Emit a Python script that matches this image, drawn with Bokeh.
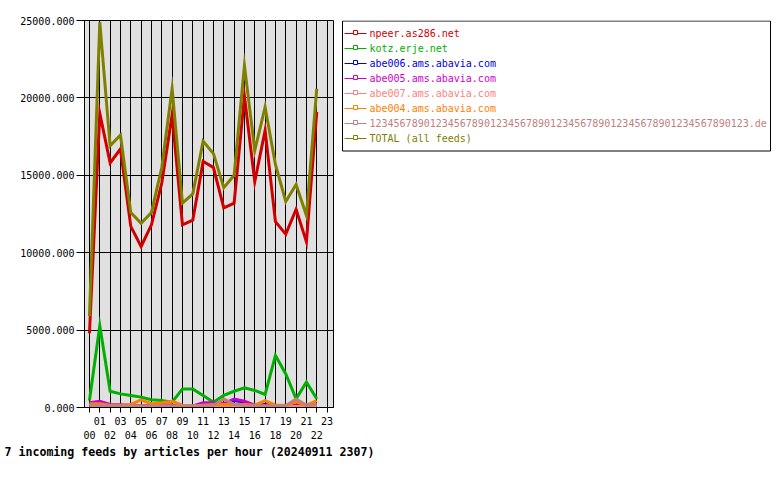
from bokeh.plotting import figure
from bokeh.layouts import row, column
from bokeh.models import (Range1d, FixedTicker, PrintfTickFormatter, LinearAxis,
                          Label, Grid, ColumnDataSource)
from bokeh.core.properties import value
from bokeh.embed import file_html
from bokeh.resources import INLINE

# ---------------- data ----------------
hours = [0, 1, 2, 3, 4, 5, 6, 7, 8, 9, 10, 11, 12, 13, 14, 15, 16, 17, 18, 19, 20, 21, 22]
hour_labels = ["00", "01", "02", "03", "04", "05", "06", "07", "08", "09", "10", "11",
               "12", "13", "14", "15", "16", "17", "18", "19", "20", "21", "22", "23"]
y_ticks = [0, 5000, 10000, 15000, 20000, 25000]

feed_names = ["npeer.as286.net", "kotz.erje.net", "abe006.ams.abavia.com",
              "abe005.ams.abavia.com", "abe007.ams.abavia.com", "abe004.ams.abavia.com",
              "123456789012345678901234567890123456789012345678901234567890123.de",
              "TOTAL (all feeds)"]
feed_colors = ["#d00000", "#00b000", "#0000dd", "#cc00cc", "#ff8080", "#ff8000",
               "#c08080", "#808000"]

npeer = [4800, 19000, 15800, 16700, 11700, 10400, 11800, 14500, 18900, 11800, 12100, 15900,
         15500, 12900, 13200, 20100, 14600, 17900, 12000, 11200, 12800, 10700, 19100]
kotz = [450, 5300, 1050, 880, 780, 670, 500, 450, 340, 1200, 1200, 780,
        340, 780, 1050, 1270, 1100, 840, 3360, 2170, 560, 1640, 560]
abe006 = [200, 250, 150, 120, 100, 80, 100, 150, 120, 60, 80, 150,
          250, 200, 450, 350, 100, 200, 100, 80, 150, 80, 150]
abe005 = [300, 400, 200, 180, 150, 120, 150, 200, 150, 80, 100, 300,
          300, 250, 550, 400, 150, 100, 100, 80, 100, 80, 200]
abe007 = [100, 120, 80, 60, 60, 50, 60, 80, 60, 40, 50, 80,
          100, 100, 150, 120, 60, 80, 60, 50, 80, 50, 100]
abe004 = [250, 250, 150, 150, 200, 500, 250, 300, 400, 150, 100, 150,
          200, 200, 200, 200, 150, 450, 150, 150, 350, 150, 450]
longname = [150, 150, 120, 120, 120, 120, 120, 120, 120, 120, 120, 120,
            150, 550, 200, 150, 120, 120, 120, 120, 550, 150, 200]
total = [5900, 24900, 16900, 17600, 12600, 11900, 12600, 15500, 20600, 13200, 13800, 17200,
         16400, 14200, 15000, 22100, 16600, 19400, 15700, 13300, 14400, 12400, 20600]

series = [npeer, kotz, abe006, abe005, abe007, abe004, longname, total]
title_text = "7 incoming feeds by articles per hour (20240911 2307)"

MONO = "DejaVu Sans Mono"

# ---------------- main chart ----------------
MAIN_W, MAIN_H = 338, 445
TOP, BOTTOM = 20, 38
p = figure(width=MAIN_W, height=MAIN_H, output_backend="svg", toolbar_location=None,
           x_range=Range1d(-0.48, 23.62), y_range=Range1d(0, 25000),
           x_axis_location=None, y_axis_location="left",
           min_border_left=84, min_border_right=5, min_border_top=TOP, min_border_bottom=BOTTOM,
           background_fill_color="#e0e0e0", border_fill_color="white",
           outline_line_color="black", outline_line_width=1)
p.grid.visible = False

all_ticks = list(range(len(hour_labels)))
p.add_layout(Grid(dimension=0, ticker=FixedTicker(ticks=all_ticks),
                  grid_line_color="black", grid_line_width=1))
p.add_layout(Grid(dimension=1, ticker=FixedTicker(ticks=y_ticks),
                  grid_line_color="black", grid_line_width=1))

ya = p.yaxis[0]
ya.ticker = FixedTicker(ticks=y_ticks)
ya.formatter = PrintfTickFormatter(format="%.3f")
ya.major_tick_out = 8
ya.major_tick_in = 0
ya.minor_tick_out = 0
ya.minor_tick_in = 0
ya.axis_line_color = "black"
ya.major_tick_line_color = "black"
ya.major_label_standoff = 2
ya.major_label_text_font = MONO
ya.major_label_text_font_size = "10px"
ya.major_label_text_color = "black"

axA = LinearAxis(ticker=FixedTicker(ticks=all_ticks),
                 major_label_overrides={t: (hour_labels[t] if t % 2 == 1 else "") for t in all_ticks},
                 major_tick_out=5, major_tick_in=0, minor_tick_out=0, minor_tick_in=0,
                 axis_line_color="black", major_tick_line_color="black",
                 major_label_standoff=4, major_label_text_font=MONO,
                 major_label_text_font_size="10px", major_label_text_color="black")
even_ticks = [t for t in all_ticks if t % 2 == 0]
axB = LinearAxis(ticker=FixedTicker(ticks=even_ticks),
                 major_label_overrides={t: hour_labels[t] for t in even_ticks},
                 major_tick_out=0, major_tick_in=0, minor_tick_out=0, minor_tick_in=0,
                 axis_line_color=None, major_tick_line_color=None,
                 major_label_standoff=3, major_label_text_font=MONO,
                 major_label_text_font_size="10px", major_label_text_color="black")
p.add_layout(axA, "below")
p.add_layout(axB, "below")

for vals, col in zip(series, feed_colors):
    p.line(hours, vals, line_color=col, line_width=3, line_join="miter")

# ---------------- legend (separate figure in pixel coordinates) ----------------
LEG_W = 780 - MAIN_W
FRAME_H = MAIN_H - TOP - BOTTOM
ROW_H = 15
PAD = 5
BOX_W = 428
BOX_H = len(feed_names) * ROW_H + 2 * PAD
leg = figure(width=LEG_W, height=MAIN_H, output_backend="svg", toolbar_location=None,
             x_range=Range1d(-4, LEG_W - 4), y_range=Range1d(start=FRAME_H - 0.5, end=-0.5),
             x_axis_location=None, y_axis_location=None,
             min_border_left=0, min_border_right=0,
             min_border_top=TOP, min_border_bottom=BOTTOM,
             background_fill_color="white", border_fill_color="white",
             outline_line_color=None)
leg.grid.visible = False
leg.quad(left=[0], right=[BOX_W], top=[0], bottom=[BOX_H], fill_color="white",
         line_color="black", line_width=1)
rows_y = [PAD + ROW_H / 2 + ROW_H * i for i in range(len(feed_names))]
n = len(feed_names)
lsrc = ColumnDataSource(dict(
    x0=[2] * n, x1=[24] * n, xm=[13] * n, xt=[27] * n,
    y=rows_y, ym=[v - 1 for v in rows_y], name=feed_names, color=feed_colors))
leg.segment(x0="x0", y0="y", x1="x1", y1="y", line_color="color", line_width=1, source=lsrc)
leg.scatter(x="xm", y="ym", marker="square", size=4, line_color="color",
            fill_color="white", line_width=1, source=lsrc)
leg.text(x="xt", y="y", text="name", text_color="color", text_font=value(MONO),
         text_font_size="10px", text_baseline="middle", text_align="left", source=lsrc)

# ---------------- title strip ----------------
tf = figure(width=780, height=35, output_backend="svg", toolbar_location=None,
            x_range=Range1d(0, 780), y_range=Range1d(0, 35),
            x_axis_location=None, y_axis_location=None,
            min_border=0, outline_line_color=None,
            background_fill_color="white", border_fill_color="white")
tf.grid.visible = False
tf.add_layout(Label(x=4, y=29, x_units="screen", y_units="screen", text=title_text,
                    text_font=MONO, text_font_style="bold", text_font_size="11.6px",
                    text_baseline="middle", text_align="left", text_color="black"))

layout = column(row(p, leg, spacing=0), tf, spacing=0)
open("out.html", "w").write(file_html(layout, INLINE))
